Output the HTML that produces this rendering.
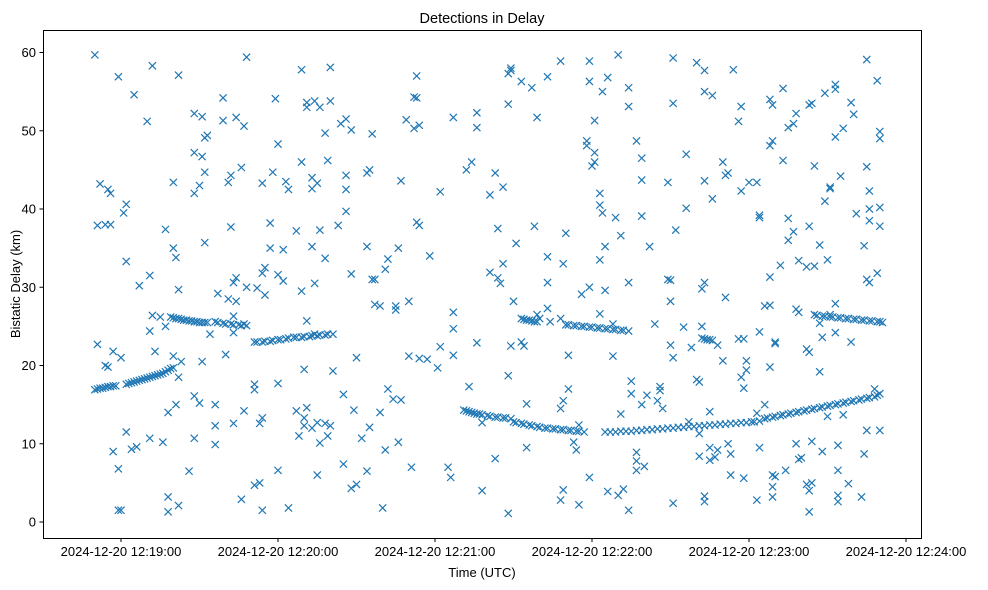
<!DOCTYPE html>
<html><head><meta charset="utf-8"><style>
html,body{margin:0;padding:0;background:#fff;}
svg{display:block;font-family:"Liberation Sans","DejaVu Sans",sans-serif;}
</style></head><body>
<svg id="chart" width="988" height="590" viewBox="0 0 988 590" xmlns="http://www.w3.org/2000/svg">
<rect x="0" y="0" width="988" height="590" fill="#fff"/>
<text x="482" y="23" text-anchor="middle" font-size="14.5">Detections in Delay</text>
<g id="marks"></g>
<rect x="43.5" y="30.5" width="878" height="508" fill="none" stroke="#000" stroke-width="1"/>
<g id="xaxis"></g>
<g id="yaxis"></g>
<text x="482" y="577" text-anchor="middle" font-size="13">Time (UTC)</text>
<text x="0" y="0" transform="translate(20,284) rotate(-90)" text-anchor="middle" font-size="13">Bistatic Delay (km)</text>
</svg>
<script>
// time in seconds after 12:18:00 UTC, delay in km
const xTickSeconds = [60,120,180,240,300,360];
const xTickLabels = ["2024-12-20 12:19:00","2024-12-20 12:20:00","2024-12-20 12:21:00","2024-12-20 12:22:00","2024-12-20 12:23:00","2024-12-20 12:24:00"];
const yTickValues = [0,10,20,30,40,50,60];
const yTickLabels = ["0","10","20","30","40","50","60"];
const trackPoints = [
[50,16.9],[51,17.0],[52,17.1],[53,17.1],[54,17.2],[55,17.3],[56,17.3],[57,17.4],[58,17.4],[62,17.6],[63,17.7],[64,17.8],[65,17.9],[66,18.0],[67,18.1],[68,18.2],[69,18.3],[70,18.4],[71,18.5],[72,18.6],[73,18.7],[74,18.8],[75,18.9],[76,19.0],[77,19.2],[78,19.4],[79,19.6],[80,19.7],
[79,26.2],[80,26.1],[81,26.0],[82,26.0],[83,25.9],[84,25.8],[85,25.8],[86,25.7],[87,25.7],[88,25.6],[89,25.6],[90,25.5],[91,25.5],[92,25.5],[93,25.5],
[96,25.6],[97,25.5],[99,25.4],[100,25.3],[102,25.3],[103,25.2],[105,25.2],[106,25.1],[108,25.1],
[111,23.0],[112,23.0],[114,23.0],[115,23.1],[117,23.1],[118,23.2],[120,23.3],[121,23.3],[123,23.4],[124,23.5],[126,23.6],[127,23.6],[129,23.6],[130,23.7],[132,23.7],[133,23.8],[135,23.8],[136,23.9],[138,23.9],[139,24.0],[141,24.0],
[191,14.3],[192,14.2],[193,14.1],[194,14.0],[195,13.9],[196,13.8],[197,13.8],[198,13.7],[200,13.6],[201,13.5],[203,13.4],[204,13.4],[206,13.3],[207,13.3],[209,13.2],
[210,12.8],[211,12.7],[213,12.6],[214,12.5],[216,12.4],[217,12.3],[219,12.2],[220,12.1],[222,12.0],[223,12.0],[225,11.9],[226,11.9],[228,11.8],[229,11.8],[231,11.7],[232,11.7],[234,11.6],[235,11.6],[237,11.5],
[213,26.0],[214,25.9],[215,25.8],[216,25.8],[217,25.7],[218,25.6],[219,25.6],
[230,25.2],[231,25.2],[233,25.1],[234,25.1],[236,25.0],[237,25.0],[239,24.9],[240,24.9],[242,24.8],[243,24.8],[245,24.7],[246,24.7],[248,24.6],[249,24.6],[251,24.5],[252,24.5],[254,24.4],
[245,11.5],[247,11.5],[249,11.5],[251,11.6],[253,11.6],[255,11.6],[257,11.7],[259,11.7],[261,11.8],[263,11.8],[265,11.9],[267,11.9],[269,12.0],[271,12.0],[273,12.1],[275,12.1],[277,12.2],[279,12.2],[281,12.3],[283,12.3],[285,12.4],[287,12.4],[289,12.5],[291,12.5],[293,12.6],[295,12.6],[297,12.7],[299,12.7],[301,12.8],[302,12.8],[304,12.9],
[306,13.2],[307,13.3],[309,13.4],[310,13.5],[312,13.6],[313,13.7],[315,13.8],[316,13.9],[318,14.0],[319,14.1],[321,14.2],[322,14.3],[324,14.4],[325,14.5],[327,14.6],[328,14.7],[330,14.8],[331,14.9],[333,15.0],[334,15.1],[336,15.2],[337,15.3],[339,15.4],[340,15.5],[342,15.6],[343,15.7],[345,15.8],[346,15.9],[348,16.0],[349,16.2],[350,16.4],
[325,26.5],[326,26.4],[328,26.3],[329,26.3],[331,26.2],[332,26.2],[334,26.1],[335,26.1],[337,26.0],[338,26.0],[340,25.9],[341,25.9],[343,25.8],[344,25.8],[346,25.7],[347,25.7],[349,25.6],[350,25.6],[351,25.5],
[282,23.5],[283,23.4],[284,23.3],[285,23.3],[286,23.2]
];
const scatterPoints = [
[50,59.7],[51,22.7],[51,37.9],[52,43.2],[54,38],[54,20],[55,42.5],[55,19.8],[56,42],[56,38],[57,21.8],[57,9],[59,56.9],[59,6.8],[59,1.5],[60,21],[60,1.5],[61,39.5],[62,40.6],[62,11.5],[62,33.3],[64,9.3],[65,54.6],[66,9.6],[67,30.2],[70,51.2],[71,24.4],[71,31.5],[71,10.7],[72,58.3],[72,26.4],[73,21.8],[75,26.2],[76,10.2],[77,37.4],[77,25],[78,3.2],[78,1.3],[78,14],[80,43.4],[80,35],[80,21.2],[81,33.8],[81,15],[82,57.1],[82,29.7],[82,2.1],[82,18.5],[83,20.5],[86,6.5],[88,52.2],[88,47.2],[88,42],[88,16.1],[88,10.7],[90,43],[90,15.2],[91,51.8],[91,46.7],[91,20.5],[92,49.1],[92,44.7],[92,35.7],[93,49.4],[94,24],[96,12.3],[96,9.9],[96,15],[97,29.2],[99,54.2],[99,51.3],[100,21.4],[101,43.4],[101,28.5],[102,37.7],[102,44.3],[103,24.2],[103,12.6],[103,26.3],[103,30.6],[104,51.7],[104,31.2],[104,28.2],[106,2.9],[106,45.3],[107,25.3],[107,50.6],[107,14.2],[108,59.4],[108,30],[111,16.9],[111,17.6],[111,4.7],[112,29.9],[113,5],[113,12.6],[114,1.5],[114,43.3],[114,31.8],[114,13.3],[115,29],[115,32.5],[117,35],[117,38.2],[118,44.7],[119,54.1],[120,6.6],[120,31.6],[120,48.3],[120,17.7],[122,30.8],[122,34.8],[123,43.5],[124,42.5],[124,1.8],[127,37.2],[127,14.2],[128,11],[129,29.5],[129,46],[129,57.8],[130,12.3],[130,19.5],[130,13.3],[131,53.6],[131,25.7],[131,14.6],[131,53],[133,44],[133,42.6],[133,35.2],[133,12],[134,30.5],[134,53.8],[134,24],[135,43.3],[135,12.7],[135,6],[136,53],[136,10.1],[136,37.3],[138,33.7],[138,49.7],[138,12.6],[139,46.2],[139,11],[140,58.1],[140,53.8],[140,12.3],[141,19.3],[143,37.9],[144,50.9],[145,7.4],[145,16.3],[146,51.5],[146,44.3],[146,42.5],[146,39.7],[148,31.7],[148,4.3],[148,50.1],[149,14.3],[150,21],[150,4.8],[152,10.7],[154,6.5],[154,35.2],[154,44.6],[155,12.1],[155,45],[156,49.6],[156,31],[157,31.0],[157,27.8],[159,14],[159,27.6],[160,1.8],[161,9.2],[161,32.3],[162,17],[162,33.6],[164,15.7],[165,27.6],[165,27.1],[166,10.2],[166,35],[167,43.6],[167,15.6],[169,51.4],[170,28.2],[170,21.2],[171,7],[172,54.3],[172,50.3],[173,38.3],[173,57],[173,54.2],[174,20.9],[174,50.7],[174,37.9],[177,20.8],[178,34],[181,19.7],[182,42.2],[182,22.4],[185,7],[186,5.7],[187,51.7],[187,21.3],[187,24.7],[187,26.8],[192,45],[193,17.3],[194,46],[196,52.3],[196,22.9],[196,50.4],[198,4],[198,12.7],[201,31.9],[201,41.8],[203,44.6],[203,8.1],[204,37.5],[204,31.2],[205,30.5],[206,33],[206,42.8],[208,57.3],[208,53.4],[208,1.1],[208,18.7],[209,22.5],[209,57.7],[209,58],[210,28.2],[211,35.6],[213,56.3],[213,23],[214,22.5],[215,15.1],[215,9.5],[217,55.5],[218,37.8],[219,51.7],[219,26.5],[220,26],[223,27.3],[223,56.9],[223,33.9],[223,30.6],[224,25.6],[228,14.5],[228,26],[228,58.9],[228,2.8],[229,33],[229,15.5],[229,4.1],[230,36.9],[231,21.3],[231,17],[233,10.2],[234,9.2],[235,12.4],[235,2.2],[236,29.1],[238,48.1],[238,48.7],[239,30],[239,56.3],[239,58.9],[239,5.7],[240,45.5],[241,51.3],[241,47.2],[241,46],[243,33.5],[243,26.6],[243,40.5],[243,42],[244,39.5],[244,55],[245,29.6],[245,35.2],[246,56.8],[246,3.9],[248,25.3],[248,21.2],[249,38.9],[250,59.7],[250,3.4],[251,36.6],[251,13.8],[252,4.2],[254,53.1],[254,55.5],[254,30.6],[254,1.5],[255,16.4],[255,18],[257,7.8],[257,8.9],[257,6.6],[257,48.7],[259,43.7],[259,39.1],[259,46.5],[259,15],[260,7.1],[261,16.2],[262,35.2],[264,25.3],[265,15.5],[266,17.3],[266,16.8],[267,14.5],[269,43.4],[269,31],[270,30.9],[270,28.2],[270,22.6],[271,21],[271,59.3],[271,53.5],[271,2.4],[272,37.3],[275,24.9],[276,40.1],[276,47],[277,12.8],[278,22.3],[280,58.7],[280,18.2],[281,17.9],[281,8.4],[281,11.3],[282,25],[282,29.8],[283,55],[283,57.7],[283,43.6],[283,30.6],[283,3.3],[283,2.6],[285,14.1],[285,9.5],[285,7.9],[286,54.5],[286,41.3],[287,8.3],[288,22.6],[288,9.2],[290,20.6],[290,46],[291,44.3],[291,28.7],[292,44.6],[292,10],[293,6],[293,8.7],[294,57.8],[296,51.2],[296,23.4],[297,42.3],[297,18.5],[297,53.1],[298,23.4],[298,17.1],[298,5.6],[299,19.4],[299,20.6],[300,43.4],[303,2.8],[303,13.9],[303,43.4],[304,9.5],[304,39.2],[304,38.9],[304,24.3],[306,27.6],[306,15],[308,27.7],[308,48.1],[308,19.8],[308,54],[308,31.3],[309,53.3],[309,48.7],[309,3.2],[309,4.5],[309,6],[310,22.8],[310,5.8],[310,23],[312,32.8],[313,55.4],[313,46.2],[314,6.6],[315,50.4],[315,36],[315,38.8],[317,37.1],[317,50.9],[318,27.2],[318,52.2],[318,10],[319,8],[319,26.8],[319,33.4],[320,8.2],[322,32.6],[322,4.8],[322,22.1],[323,21.7],[323,37.8],[323,53.3],[323,1.3],[323,4],[324,10.3],[324,5],[324,53.5],[325,45.5],[325,32.7],[327,25.4],[327,19.2],[327,35.4],[328,23.6],[328,9],[329,54.8],[329,41],[330,33.5],[330,13.5],[331,42.8],[331,42.6],[331,26.5],[333,49.2],[333,55.9],[333,55.3],[333,27.9],[333,24.2],[334,9.8],[334,3.4],[334,2.6],[334,6.6],[335,44.2],[336,50.3],[336,13.7],[338,4.9],[339,53.6],[339,23],[340,52.1],[341,39.4],[343,3.2],[344,35.3],[344,8.7],[345,11.7],[345,59.1],[345,45.4],[345,31],[346,30.6],[346,42.3],[346,40],[346,38.5],[348,17],[349,31.8],[349,56.4],[350,40.2],[350,37.8],[350,49.9],[350,49],[350,11.7]
];

const X0 = 121, PX_PER_SEC = 157/60;
const Y0 = 522, PX_PER_KM = 469.5/60;
function xScale(t){ return X0 + (t - 60) * PX_PER_SEC; }
function yScale(v){ return Y0 - v * PX_PER_KM; }
const NS = "http://www.w3.org/2000/svg";
const marks = document.getElementById('marks');
function drawX(t, v){
  const cx = xScale(t), cy = yScale(v), r = 3.6;
  const p = document.createElementNS(NS, 'path');
  p.setAttribute('d', `M${cx-r},${cy-r}L${cx+r},${cy+r}M${cx-r},${cy+r}L${cx+r},${cy-r}`);
  p.setAttribute('stroke', '#1f77b4');
  p.setAttribute('stroke-width', '1.2');
  p.setAttribute('fill', 'none');
  
  
  marks.appendChild(p);
}
trackPoints.forEach(d => drawX(d[0], d[1]));
scatterPoints.forEach(d => drawX(d[0], d[1]));

const xaxis = document.getElementById('xaxis');
xTickSeconds.forEach((t, i) => {
  const x = xScale(t);
  const l = document.createElementNS(NS, 'line');
  l.setAttribute('x1', x); l.setAttribute('x2', x);
  l.setAttribute('y1', 538.5); l.setAttribute('y2', 542);
  l.setAttribute('stroke', '#000');
  
  
  xaxis.appendChild(l);
  const tx = document.createElementNS(NS, 'text');
  tx.setAttribute('x', x); tx.setAttribute('y', 556);
  tx.setAttribute('text-anchor', 'middle');
  tx.setAttribute('font-size', '13');
  
  
  tx.textContent = xTickLabels[i];
  xaxis.appendChild(tx);
});
const yaxis = document.getElementById('yaxis');
yTickValues.forEach((v, i) => {
  const y = yScale(v);
  const l = document.createElementNS(NS, 'line');
  l.setAttribute('x1', 39.5); l.setAttribute('x2', 43.5);
  l.setAttribute('y1', y); l.setAttribute('y2', y);
  l.setAttribute('stroke', '#000');
  
  
  yaxis.appendChild(l);
  const tx = document.createElementNS(NS, 'text');
  tx.setAttribute('x', 36); tx.setAttribute('y', y + 4.5);
  tx.setAttribute('text-anchor', 'end');
  tx.setAttribute('font-size', '13');
  
  
  tx.textContent = yTickLabels[i];
  yaxis.appendChild(tx);
});
</script>
</body></html>
